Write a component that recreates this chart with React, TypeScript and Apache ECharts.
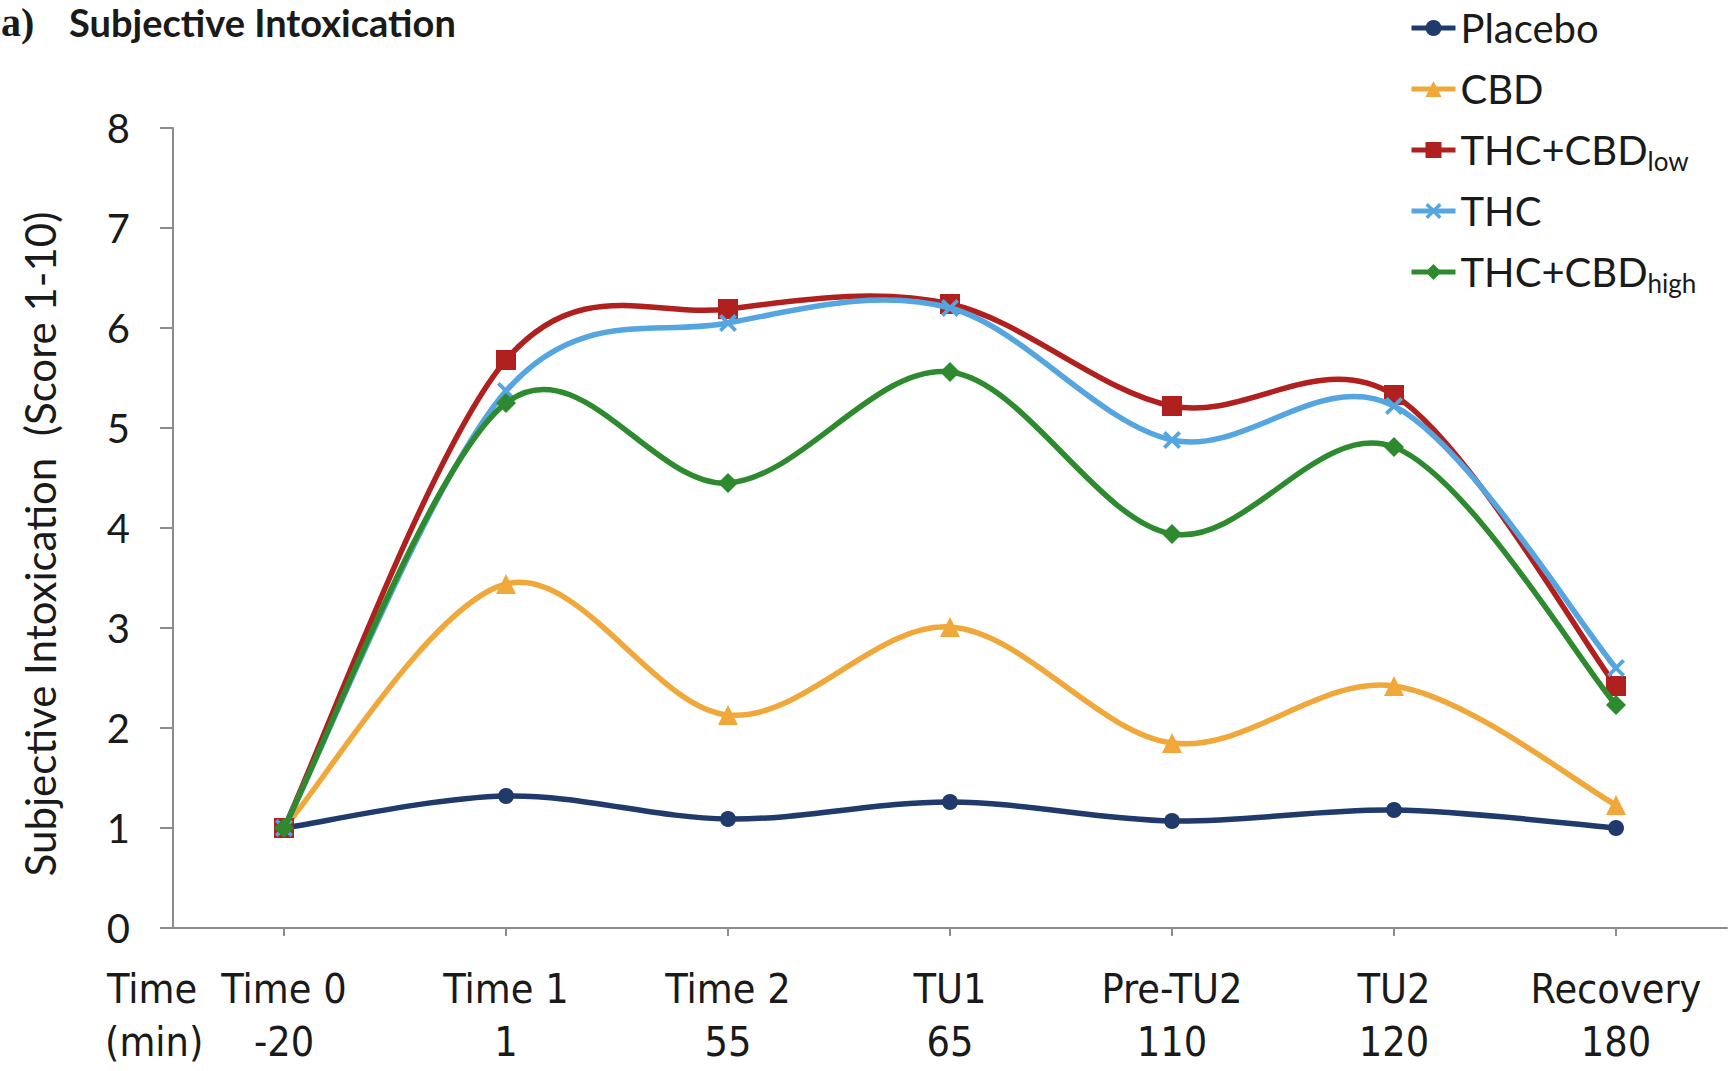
import React, { useEffect, useRef } from "react";
import * as echarts from "echarts";

const categories = ["Time 0", "Time 1", "Time 2", "TU1", "Pre-TU2", "TU2", "Recovery"];
const minutes = ["-20", "1", "55", "65", "110", "120", "180"];

const placebo = [1.0, 1.32, 1.09, 1.26, 1.07, 1.18, 1.0];
const cbd = [1.0, 3.44, 2.13, 3.01, 1.85, 2.42, 1.23];
const thcCbdLow = [1.0, 5.68, 6.19, 6.24, 5.22, 5.33, 2.42];
const thc = [1.0, 5.37, 6.05, 6.2, 4.88, 5.22, 2.6];
const thcCbdHigh = [1.0, 5.25, 4.45, 5.56, 3.94, 4.81, 2.23];

const seriesNames = ["Placebo", "CBD", "THC+CBDlow", "THC", "THC+CBDhigh"];
const seriesColors = ["#1F3A6B", "#F0A83A", "#B0201E", "#55A6E0", "#2E8A2E"];

const CROSS = "path://M0,1.5 L1.5,0 L5,3.5 L8.5,0 L10,1.5 L6.5,5 L10,8.5 L8.5,10 L5,6.5 L1.5,10 L0,8.5 L3.5,5 Z";

const SANS = "Lato, 'Open Sans', sans-serif";
const NARROW = "'Liberation Sans Narrow', 'DejaVu Sans Condensed', sans-serif";
const TEXT = "#1a1a1a";
const AXIS = "#8c8c8c";
const LINE_W = 5.5;

export default function App() {
  const ref = useRef<HTMLDivElement>(null);

  useEffect(() => {
    if (!ref.current) return;
    const chart = echarts.init(ref.current, undefined, { renderer: "svg" });

    const dataSets = [placebo, cbd, thcCbdLow, thc, thcCbdHigh];
    const symbols = ["circle", "triangle", "rect", CROSS, "diamond"];
    const sizes = [16, 20, 20, 18, 20];

    const series: any[] = [];
    dataSets.forEach((d, si) => {
      const n = d.length;
      const color = seriesColors[si];
      // smoothed curve (Catmull-Rom style, like spreadsheet smoothing) through axis coords
      series.push({
        name: seriesNames[si] + "-curve",
        type: "custom",
        data: d.map((v, i) => [i, v]),
        encode: { x: 0, y: 1 },
        z: 2 + si * 2,
        silent: true,
        renderItem: (params: any, api: any) => {
          const i = api.value(0) as number;
          if (i >= n - 1) return null;
          const pt = (k: number) => {
            const kk = Math.max(0, Math.min(n - 1, k));
            return api.coord([kk, d[kk]]);
          };
          const p0 = pt(i - 1);
          const p1 = pt(i);
          const p2 = pt(i + 1);
          const p3 = pt(i + 2);
          return {
            type: "bezierCurve",
            shape: {
              x1: p1[0],
              y1: p1[1],
              x2: p2[0],
              y2: p2[1],
              cpx1: p1[0] + (p2[0] - p0[0]) / 6,
              cpy1: p1[1] + (p2[1] - p0[1]) / 6,
              cpx2: p2[0] - (p3[0] - p1[0]) / 6,
              cpy2: p2[1] - (p3[1] - p1[1]) / 6,
            },
            style: { stroke: color, lineWidth: LINE_W, fill: null, lineCap: "round" },
          };
        },
      });
      // markers
      series.push({
        name: seriesNames[si],
        type: "line",
        data: d,
        symbol: symbols[si],
        symbolSize: sizes[si],
        showSymbol: true,
        lineStyle: { color, width: 0 },
        itemStyle: { color },
        z: 3 + si * 2,
      });
    });

    chart.setOption({
      animation: false,
      backgroundColor: "#ffffff",
      grid: { left: 173, top: 128, right: 2, bottom: 143, containLabel: false },
      legend: {
        orient: "vertical",
        left: 1409,
        top: 4,
        padding: 0,
        itemWidth: 44,
        itemHeight: 20,
        itemGap: 13,
        data: seriesNames.map((name, i) => ({
          name,
          lineStyle: { color: seriesColors[i], width: 5, opacity: 1 },
        })),
        formatter: (name: string) => {
          if (name === "THC+CBDlow") return "THC+CBD{sub|low}";
          if (name === "THC+CBDhigh") return "THC+CBD{sub|high}";
          return name;
        },
        textStyle: {
          fontFamily: SANS,
          fontSize: 40,
          lineHeight: 48,
          color: TEXT,
          rich: {
            sub: { fontFamily: SANS, fontSize: 26, lineHeight: 26, verticalAlign: "bottom", color: TEXT },
          },
        },
      },
      xAxis: {
        type: "category",
        data: categories,
        boundaryGap: true,
        axisLine: { show: true, lineStyle: { color: AXIS, width: 2 } },
        axisTick: { show: true, alignWithLabel: true, length: 8, lineStyle: { color: AXIS, width: 2 } },
        axisLabel: {
          interval: 0,
          margin: 34,
          fontFamily: NARROW,
          fontSize: 41,
          lineHeight: 53,
          color: TEXT,
          formatter: (v: string, i: number) => `${v}\n${minutes[i]}`,
        },
      },
      yAxis: {
        type: "value",
        min: 0,
        max: 8,
        interval: 1,
        name: "Subjective Intoxication  (Score 1-10)",
        nameLocation: "middle",
        nameRotate: 90,
        nameGap: 112,
        nameTextStyle: { fontFamily: SANS, fontSize: 42, color: TEXT, padding: [0, 32, 0, 0] },
        axisLine: { show: true, lineStyle: { color: AXIS, width: 2 } },
        axisTick: { show: true, length: 13, lineStyle: { color: AXIS, width: 2 } },
        splitLine: { show: false },
        axisLabel: { margin: 43, fontFamily: SANS, fontSize: 40, color: TEXT },
      },
      graphic: [
        {
          type: "text",
          x: 1,
          y: 22,
          style: { text: "a)", font: "bold 40px 'Liberation Serif', serif", fill: TEXT, verticalAlign: "middle" },
        },
        {
          type: "text",
          x: 69,
          y: 22,
          style: { text: "Subjective Intoxication", font: "bold 38px Lato, sans-serif", fill: TEXT, verticalAlign: "middle" },
        },
        {
          type: "text",
          x: 107,
          y: 989,
          style: { text: "Time", font: `41px ${NARROW}`, fill: TEXT, verticalAlign: "middle" },
        },
        {
          type: "text",
          x: 105,
          y: 1042,
          style: { text: "(min)", font: `41px ${NARROW}`, fill: TEXT, verticalAlign: "middle" },
        },
      ],
      series,
    });

    return () => chart.dispose();
  }, []);

  return (
    <div
      ref={ref}
      style={{ position: "absolute", left: 0, top: 0, width: 1729, height: 1071 }}
    />
  );
}
